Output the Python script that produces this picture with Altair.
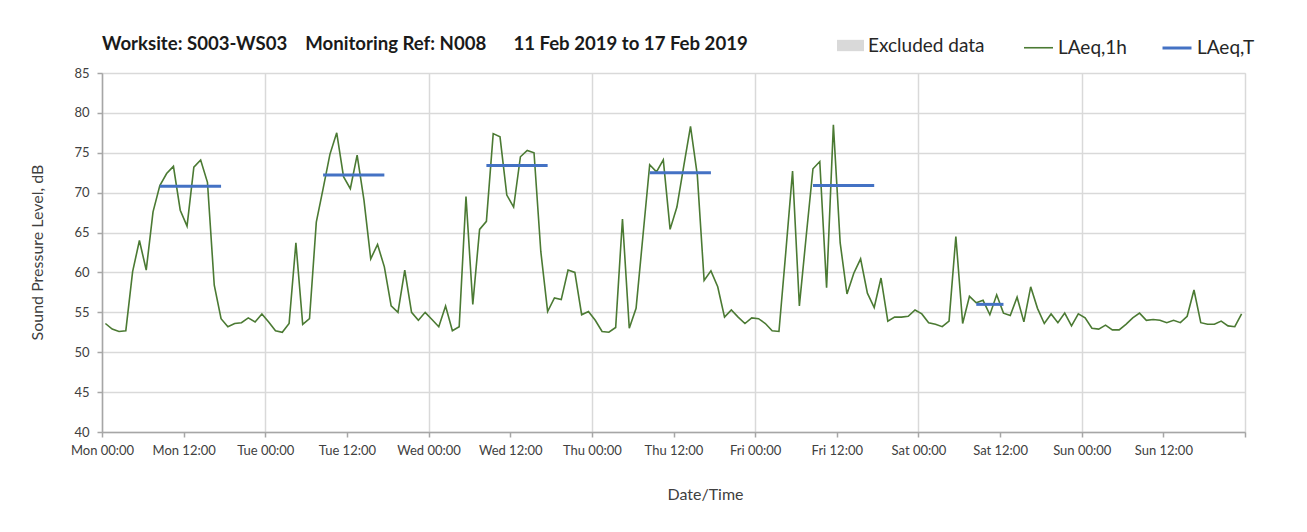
import json
import altair as alt
import pandas as pd

# ---------------- data ----------------
day_names = ["Mon", "Tue", "Wed", "Thu", "Fri", "Sat", "Sun"]

# hourly LAeq,1h values (dB), Mon 00:00 .. Sun 23:00
laeq_1h = [
    53.6, 52.9, 52.6, 52.7, 60.1, 64.0, 60.3, 67.6, 70.9, 72.4, 73.3, 67.8,
    65.8, 73.2, 74.1, 71.3, 58.4, 54.2, 53.2, 53.6, 53.7, 54.3, 53.8, 54.8,
    53.8, 52.7, 52.5, 53.6, 63.7, 53.5, 54.2, 66.3, 70.5, 74.8, 77.5, 72.0,
    70.5, 74.7, 69.1, 61.7, 63.5, 60.7, 55.8, 55.0, 60.3, 55.0, 54.0, 55.0,
    54.1, 53.2, 55.8, 52.7, 53.2, 69.5, 56.0, 65.4, 66.4, 77.4, 77.0, 69.7,
    68.2, 74.5, 75.3, 75.0, 62.6, 55.1, 56.8, 56.6, 60.3, 60.0, 54.7, 55.1,
    54.0, 52.6, 52.5, 53.1, 66.7, 53.0, 55.5, 64.5, 73.5, 72.6, 74.1, 65.4,
    68.2, 73.3, 78.3, 72.2, 59.0, 60.2, 58.2, 54.4, 55.3, 54.4, 53.6, 54.3,
    54.2, 53.6, 52.7, 52.6, 62.5, 72.7, 55.8, 64.5, 73.0, 73.9, 58.1, 78.5,
    63.7, 57.3, 59.9, 61.7, 57.4, 55.6, 59.3, 53.9, 54.4, 54.4, 54.5, 55.3,
    54.8, 53.7, 53.5, 53.2, 53.9, 64.5, 53.6, 57.0, 56.2, 56.5, 54.7, 57.2,
    54.9, 54.6, 56.9, 53.8, 58.2, 55.5, 53.6, 54.8, 53.7, 54.9, 53.3, 54.8,
    54.3, 53.0, 52.9, 53.4, 52.8, 52.8, 53.5, 54.3, 54.9, 54.0, 54.1, 54.0,
    53.7, 54.0, 53.7, 54.5, 57.8, 53.7, 53.5, 53.5, 53.9, 53.3, 53.2, 54.8,
]

# LAeq,T assessment periods (start / end hour from Mon 00:00)
period_day = ["Mon", "Tue", "Wed", "Thu", "Fri", "Sat"]
period_start_hour = [8, 32, 56, 80, 104, 128]
period_end_hour = [18, 42, 66, 90, 114, 133]
laeq_t = [70.8, 72.2, 73.4, 72.5, 70.9, 56.0]

# excluded data periods (none in this week)
excluded_start = []
excluded_end = []

series_names = ["LAeq,1h", "LAeq,T"]
series_colors = ["#4b7a33", "#4472c4"]
series_widths = [1.6, 3]
excluded_name = ["Excluded data"]
excluded_color = ["#d9d9d9"]

y_ticks = [40, 45, 50, 55, 60, 65, 70, 75, 80, 85]
x_tick_hours = list(range(0, 169, 12))

title_text = ("Worksite: S003-WS03\u00a0\u00a0\u00a0\u00a0Monitoring Ref: N008"
              "\u00a0\u00a0\u00a0\u00a0\u00a0 11 Feb 2019 to 17 Feb 2019")

# ---------------- tables ----------------
hourly = pd.DataFrame({
    "hour": list(range(len(laeq_1h))),
    "level": laeq_1h,
    "series": ["LAeq,1h"] * len(laeq_1h),
})
periods = pd.DataFrame({
    "day": period_day,
    "start": period_start_hour,
    "end": period_end_hour,
    "level": laeq_t,
    "series": ["LAeq,T"] * len(laeq_t),
})
excluded = pd.DataFrame({
    "start": pd.Series(excluded_start, dtype=float),
    "end": pd.Series(excluded_end, dtype=float),
    "label": pd.Series([], dtype=str),
})

FONT = "Lato"
TXT = "#404040"
AX = "#a6a6a6"
GRID = "#d9d9d9"

day_arr = json.dumps(day_names)
label_expr = (f"datum.value >= 168 ? '' : {day_arr}[floor(datum.value / 24)] + "
              "(datum.value % 24 == 0 ? ' 00:00' : ' 12:00')")

x_scale = alt.Scale(domain=[0, 168], nice=False, zero=False)
y_scale = alt.Scale(domain=[40, 85], nice=False, zero=False)

x_axis = alt.Axis(
    values=x_tick_hours, labelExpr=label_expr, labelOverlap=False, labelFlush=False,
    labelFont=FONT, labelFontSize=13, labelColor=TXT, labelPadding=7,
    domainColor=AX, domainWidth=1.5, tickColor=AX, tickSize=5, tickWidth=1.5,
    grid=True, gridColor=GRID, gridWidth=1.5,
    gridOpacity={"condition": {"test": "datum.value % 24 != 0", "value": 0}, "value": 1},
    title="Date/Time", titleFont=FONT, titleFontSize=16, titleFontWeight="normal",
    titleColor=TXT, titleX=603, titleY=62, titleAlign="center", titleBaseline="middle",
)
y_axis = alt.Axis(
    values=y_ticks, labelFont=FONT, labelFontSize=13, labelColor=TXT, labelPadding=8,
    domainColor=AX, domainWidth=1.5, tickColor=AX, tickSize=5, tickWidth=1.5,
    grid=True, gridColor=GRID, gridWidth=1.5,
    title="Sound Pressure Level, dB", titleFont=FONT, titleFontSize=16,
    titleFontWeight="normal", titleColor=TXT, titleX=-65, titleY=179,
    titleAlign="center", titleBaseline="middle", titleAngle=270,
)

stroke_legend = alt.Legend(
    orient="none", legendX=921, legendY=-41, direction="horizontal", title=None,
    symbolType="stroke", symbolSize=841, columnPadding=29, labelOffset=4,
    labelFont=FONT, labelFontSize=19, labelColor="#262626", padding=0,
)
fill_legend = alt.Legend(
    orient="none", legendX=735, legendY=-41, title=None,
    symbolType="M-1,-0.42L1,-0.42L1,0.42L-1,0.42Z", symbolSize=729,
    symbolStrokeWidth=0, labelOffset=4,
    labelFont=FONT, labelFontSize=19, labelColor="#262626", padding=0,
)

stroke_enc = alt.Stroke("series:N", scale=alt.Scale(domain=series_names, range=series_colors),
                        legend=stroke_legend)
width_enc = alt.StrokeWidth("series:N",
                            scale=alt.Scale(type="ordinal", domain=series_names, range=series_widths),
                            legend=stroke_legend)

line_layer = alt.Chart(hourly).transform_calculate(
    mid="datum.hour + 0.5"
).mark_line().encode(
    x=alt.X("mid:Q", scale=x_scale, axis=x_axis),
    y=alt.Y("level:Q", scale=y_scale, axis=y_axis),
    stroke=stroke_enc,
    strokeWidth=width_enc,
)

excl_layer = alt.Chart(excluded).mark_rect().encode(
    x=alt.X("start:Q", scale=x_scale, axis=x_axis),
    x2="end:Q",
    fill=alt.Fill("label:N", scale=alt.Scale(domain=excluded_name, range=excluded_color),
                  legend=fill_legend),
)

period_layer = alt.Chart(periods).transform_calculate(
    xs="datum.start + 0.5", xe="datum.end - 0.5"
).mark_rule().encode(
    x=alt.X("xs:Q", scale=x_scale, axis=x_axis),
    x2="xe:Q",
    y=alt.Y("level:Q", scale=y_scale, axis=y_axis),
    stroke=stroke_enc,
    strokeWidth=width_enc,
)

chart = alt.layer(line_layer, excl_layer, period_layer).properties(
    width=1143,
    height=359,
    autosize="none",
    padding={"left": 94, "top": 65, "right": 54, "bottom": 92},
    title=alt.TitleParams(
        text=title_text, anchor="start", frame="group", font=FONT, fontSize=18.6,
        fontWeight="bold", color="#1a1a1a", offset=0, dy=22,
    ),
).configure_view(
    stroke=AX, strokeWidth=1.5
).configure(background="white")

chart.save("out.html", embed_options={"renderer": "svg", "actions": False})
